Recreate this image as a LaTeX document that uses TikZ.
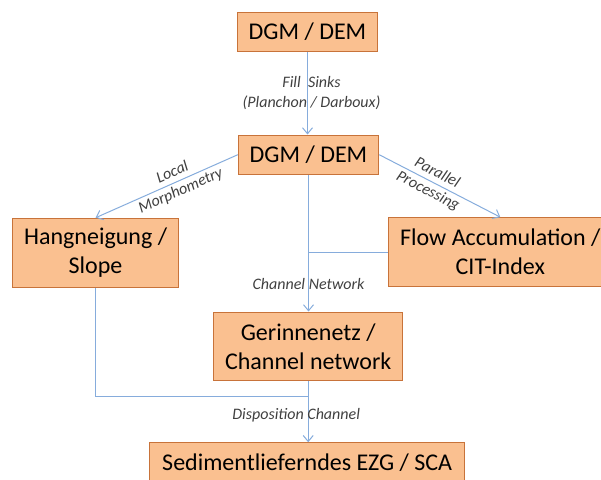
\documentclass[tikz,border=0pt]{standalone}
\usepackage{fontspec}
\setmainfont{Carlito}
\usetikzlibrary{arrows.meta}
\definecolor{boxfill}{HTML}{FAC090}
\definecolor{boxline}{HTML}{C8733A}
\definecolor{conn}{HTML}{86ACDC}
\definecolor{lbl}{HTML}{404040}
\tikzset{
  box/.style={draw=boxline, fill=boxfill, line width=1.1pt, inner sep=0pt,
    align=center, font=\fontsize{24}{29}\selectfont, text=black},
  conline/.style={draw=conn, line width=1pt},
  arr/.style={conline, -{Straight Barb[length=6pt,width=10pt]}},
  lab/.style={font=\fontsize{16}{20}\selectfont\itshape, text=lbl, align=center, inner sep=0pt}
}
\begin{document}
\begin{tikzpicture}[x=1pt,y=-1pt]
\useasboundingbox (0,0) rectangle (601,479);
\begin{scope}
\clip (0,0) rectangle (601,479);
\node[box, minimum width=140pt, minimum height=39.4pt] (top) at (307.5,32) {DGM / DEM};
\node[box, minimum width=140.3pt, minimum height=39.3pt] (dem) at (308.5,154.7) {DGM / DEM};
\node[box, minimum width=166pt, minimum height=69pt] (hang) at (95.6,252.8) {Hangneigung /\\Slope};
\node[box, minimum width=224pt, minimum height=68.6pt] (flow) at (500.3,252) {Flow Accumulation /\\CIT-Index};
\node[box, minimum width=188.6pt, minimum height=68.7pt] (ger) at (308.2,346.4) {Gerinnenetz /\\Channel network};
\node[box, minimum width=314.6pt, minimum height=39.4pt] (sed) at (307.2,462.5) {Sedimentlieferndes EZG / SCA};
\end{scope}
\coordinate (jf) at (flow.west -| dem.south);
\coordinate (j) at (308.5,396.3);
\draw[arr] (top.south) -- (top.south |- dem.north)
  node[lab, midway, xshift=4pt] {Fill~~Sinks\\(Planchon / Darboux)};
\draw[arr] (dem.west) -- (hang.north)
  node[lab, pos=0.43, sloped] {Local\\Morphometry};
\draw[arr] (dem.east) -- (flow.north)
  node[lab, pos=0.44, sloped] {Parallel\\Processing};
\draw[arr] (dem.south) -- (dem.south |- ger.north)
  node[lab, pos=0.8] {Channel Network};
\draw[conline] (flow.west) -- (jf);
\draw[conline] (hang.south) |- (j);
\draw[arr] (ger.south) -- (ger.south |- sed.north)
  node[lab, pos=0.56, xshift=-12pt] {Disposition Channel};
\end{tikzpicture}
\end{document}
